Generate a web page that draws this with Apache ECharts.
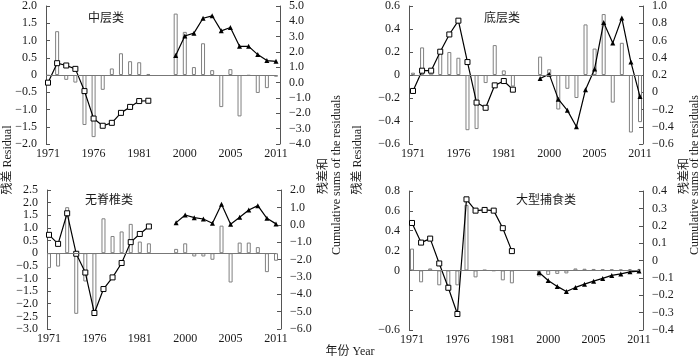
<!DOCTYPE html>
<html><head><meta charset="utf-8">
<script src="https://cdn.jsdelivr.net/npm/echarts@6/dist/echarts.min.js"></script>
<style>html,body{margin:0;padding:0;background:#fff}#c{width:700px;height:362px}</style>
</head><body><div id="c"></div>
<script>
// categories: 1971-1982, gap, 1999-2011 (2010 missing)
const yearsEarly = ['1971','1972','1973','1974','1975','1976','1977','1978','1979','1980','1981','1982'];
const yearsLate = ['1999','2000','2001','2002','2003','2004','2005','2006','2007','2008','2009','2011'];
const gapSlots = ['', ''];
const shownLabels = ['1971','1976','1981','2000','2005','2011'];

const titles = ['中层类','底层类','无脊椎类','大型捕食类'];

// residuals (bars, left axis)
const residEarly1 = [-0.02, 1.27, -0.14, -0.22, -1.45, -1.80, -0.43, 0.19, 0.63, 0.40, 0.37, 0.03];
const residLate1  = [1.78, 1.25, 0.23, 0.92, 0.14, -0.93, 0.17, -1.20, -0.02, -0.52, -0.38, -0.05];
const residEarly2 = [0.02, 0.24, 0.00, 0.21, 0.20, 0.15, -0.48, -0.47, -0.07, 0.26, 0.04, -0.10];
const residLate2  = [0.16, 0.05, -0.30, -0.12, -0.20, 0.44, 0.23, 0.53, -0.24, 0.28, -0.50, -0.41];
const residEarly3 = [-0.59, -0.53, 1.82, -2.40, -1.12, -2.43, 1.38, 0.68, 0.86, 1.16, 0.46, 0.39];
const residLate3  = [0.17, 0.39, -0.13, -0.13, -0.26, 1.09, -1.16, 0.42, 0.42, 0.24, -0.75, -0.30];
const residEarly4 = [0.22, -0.12, 0.02, -0.15, -0.15, -0.15, 0.66, -0.07, 0.005, -0.005, -0.10, -0.13];
const residLate4  = [-0.06, -0.045, -0.035, -0.03, 0.02, 0.017, 0.015, 0.013, 0.012, 0.01, 0.01, 0.008];

// cumulative sums (lines, right axis)
const cumEarly1 = [0.0, 1.27, 1.12, 0.90, -0.55, -2.34, -2.81, -2.62, -1.97, -1.58, -1.20, -1.18];
const cumLate1  = [1.77, 3.04, 3.23, 4.20, 4.36, 3.38, 3.60, 2.37, 2.37, 1.83, 1.44, 1.39];
const cumEarly2 = [0.015, 0.25, 0.25, 0.47, 0.67, 0.83, 0.35, -0.12, -0.18, 0.08, 0.13, 0.03];
const cumLate2  = [0.16, 0.21, -0.08, -0.21, -0.40, 0.03, 0.27, 0.81, 0.57, 0.86, 0.35, -0.05];
const cumEarly3 = [-0.58, -1.10, 0.66, -1.67, -2.75, -5.08, -3.70, -3.03, -2.20, -1.00, -0.53, -0.10];
const cumLate3  = [0.12, 0.56, 0.41, 0.33, 0.09, 1.18, 0.03, 0.43, 0.85, 1.10, 0.37, 0.05];
const cumEarly4 = [0.216, 0.103, 0.126, -0.017, -0.157, -0.308, 0.352, 0.287, 0.291, 0.287, 0.186, 0.054];
const cumLate4  = [-0.069, -0.115, -0.149, -0.178, -0.155, -0.136, -0.119, -0.103, -0.086, -0.077, -0.065, -0.061];

// axis ranges
const leftAxes = [
  {min:-2, max:2, interval:0.5, dec:1, zero:'0'},
  {min:-0.6, max:0.6, interval:0.2, dec:1, zero:'0'},
  {min:-3, max:2.5, interval:0.5, dec:1, zero:'0'},
  {min:-0.6, max:0.8, interval:0.2, dec:1, zero:'0', hide:[-0.2,-0.4]}
];
const rightAxes = [
  {min:-4, max:5, interval:1, dec:1, zero:'0.0'},
  {min:-0.6, max:1.0, interval:0.2, dec:1, zero:'0'},
  {min:-6, max:2, interval:1, dec:1, zero:'0.0'},
  {min:-0.4, max:0.4, interval:0.1, dec:1, zero:'0'}
];

const residEarly = [residEarly1, residEarly2, residEarly3, residEarly4];
const residLate = [residLate1, residLate2, residLate3, residLate4];
const cumEarly = [cumEarly1, cumEarly2, cumEarly3, cumEarly4];
const cumLate = [cumLate1, cumLate2, cumLate3, cumLate4];

const categories = yearsEarly.concat(gapSlots, yearsLate);
const nE = yearsEarly.length, nG = gapSlots.length, nL = yearsLate.length;
const nulls = n => new Array(n).fill(null);

// layout
const grids = [
  {left:48, top:5, width:228, height:139, lOff:2, rOff:4, tx:106, ty:17},
  {left:413, top:5, width:227, height:139, lOff:4, rOff:3, tx:502, ty:17},
  {left:49, top:190, width:227, height:139, lOff:2, rOff:5, tx:109, ty:199},
  {left:412, top:191, width:227, height:139, lOff:3, rOff:4, tx:546, ty:199}
];

const FONT = 'Liberation Serif';
const TXT = '#1a1a1a';
const AX = '#555';

function fmt(cfg) {
  return function (v) {
    if (Math.abs(v) < 1e-9) return cfg.zero;
    if (cfg.hide && cfg.hide.some(h => Math.abs(h - v) < 1e-9)) return '';
    return v.toFixed(cfg.dec).replace('-', '\u2212');
  };
}

const option = {
  animation: false,
  backgroundColor: '#fff',
  grid: grids.map(g => ({left:g.left, top:g.top, width:g.width, height:g.height, containLabel:false})),
  xAxis: grids.map((g, i) => ({
    type:'category', gridIndex:i, data:categories, boundaryGap:false,
    axisLine:{show:false, onZero:false}, axisTick:{show:false}, splitLine:{show:false},
    axisLabel:{
      interval: (idx, val) => shownLabels.indexOf(val) >= 0,
      fontFamily:FONT, fontSize:12, color:TXT, margin:4
    }
  })),
  yAxis: [],
  series: [],
  graphic: []
};

grids.forEach((g, i) => {
  const L = leftAxes[i], R = rightAxes[i];
  option.yAxis.push({
    type:'value', gridIndex:i, position:'left', offset:g.lOff,
    min:L.min, max:L.max, interval:L.interval,
    axisLine:{show:true, lineStyle:{color:AX, width:1}},
    axisTick:{show:true, inside:true, length:4, lineStyle:{color:AX}},
    splitLine:{show:false},
    axisLabel:{formatter:fmt(L), fontFamily:FONT, fontSize:12, color:TXT, margin:9}
  });
  option.yAxis.push({
    type:'value', gridIndex:i, position:'right', offset:g.rOff,
    min:R.min, max:R.max, interval:R.interval,
    axisLine:{show:true, lineStyle:{color:AX, width:1}},
    axisTick:{show:true, inside:true, length:4, lineStyle:{color:AX}},
    splitLine:{show:false},
    axisLabel:{formatter:fmt(R), fontFamily:FONT, fontSize:12, color:TXT, margin:9}
  });
  option.series.push({
    type:'bar', xAxisIndex:i, yAxisIndex:2*i, barWidth:4, z:2,
    data: residEarly[i].concat(nulls(nG), residLate[i]),
    itemStyle:{color:'#fff', borderColor:'#808080', borderWidth:1},
    markLine:{silent:true, symbol:'none', label:{show:false},
      lineStyle:{color:'#777', type:'solid', width:1},
      data:[{yAxis:0}]}
  });
  option.series.push({
    type:'line', xAxisIndex:i, yAxisIndex:2*i+1, z:4,
    data: cumEarly[i].concat(nulls(nG + nL)),
    symbol:'rect', symbolSize:5, showAllSymbol:true,
    lineStyle:{color:'#000', width:1.2},
    itemStyle:{color:'#fff', borderColor:'#000', borderWidth:1}
  });
  option.series.push({
    type:'line', xAxisIndex:i, yAxisIndex:2*i+1, z:4,
    data: nulls(nE + nG).concat(cumLate[i]),
    symbol:'triangle', symbolSize:5, showAllSymbol:true,
    lineStyle:{color:'#000', width:1.2},
    itemStyle:{color:'#000', borderColor:'#000', borderWidth:0}
  });
  option.graphic.push({
    type:'text', left:null, x:g.tx, y:g.ty,
    style:{text:titles[i], fontFamily:'Noto Sans CJK SC', fontSize:12, fill:TXT,
      textAlign:'center', textVerticalAlign:'middle', align:'center', verticalAlign:'middle'}
  });
});

function vtext(x, y, t, fam) {
  return {type:'text', x:x, y:y, rotation:Math.PI/2,
    style:{text:t, fontFamily:fam, fontSize:12, fill:TXT,
      textAlign:'center', textVerticalAlign:'middle', align:'center', verticalAlign:'middle'}};
}
option.graphic.push(vtext(8, 160, '残差 Residual', FONT + ', Noto Sans CJK SC'));
option.graphic.push(vtext(358, 160, '残差 Residual', FONT + ', Noto Sans CJK SC'));
option.graphic.push(vtext(322, 176, '残差和', 'Noto Sans CJK SC'));
option.graphic.push(vtext(337, 175, 'Cumulative sums of the residuals', FONT));
option.graphic.push(vtext(683, 176, '残差和', 'Noto Sans CJK SC'));
option.graphic.push(vtext(695, 175, 'Cumulative sums of the residuals', FONT));
option.graphic.push({type:'text', x:350, y:352,
  style:{text:'年份 Year', fontFamily:FONT + ', Noto Sans CJK SC', fontSize:12, fill:TXT,
    textAlign:'center', textVerticalAlign:'middle', align:'center', verticalAlign:'middle'}});

const chart = echarts.init(document.getElementById('c'), null, {renderer:'canvas'});
chart.setOption(option);
</script>
</body></html>
